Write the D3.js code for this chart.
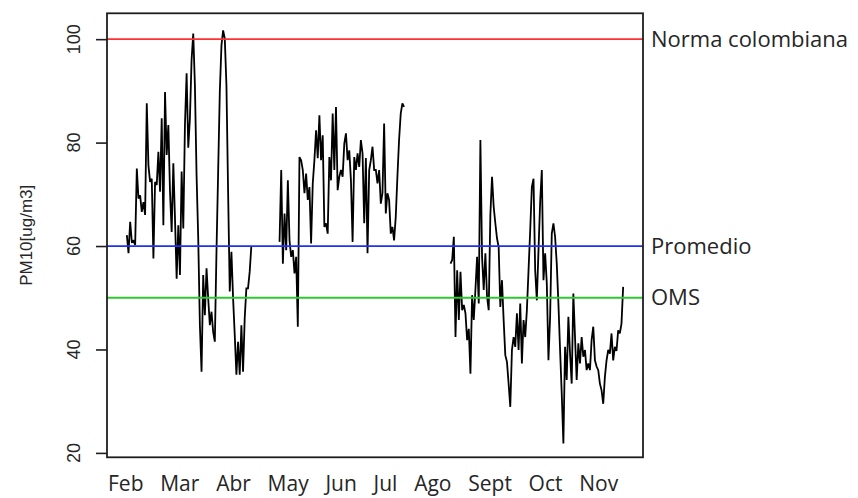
<!DOCTYPE html>
<html>
<head>
<meta charset="utf-8">
<script src="https://cdn.jsdelivr.net/npm/d3@7"></script>
<style>
  html, body { margin: 0; padding: 0; background: #ffffff; }
  svg { display: block; }
</style>
</head>
<body>
<svg id="chart" width="858" height="498"></svg>
<script>
// ---------------- DATA ----------------
const monthLabels = ["Feb", "Mar", "Abr", "May", "Jun", "Jul", "Ago", "Sept", "Oct", "Nov"];
const yTickValues = [20, 40, 60, 80, 100];
const yAxisTitle = "PM10[ug/m3]";

// Daily PM10 readings (ug/m3), three measured periods
const pm10FebApr = [62.1, 58.6, 64.7, 60.8, 61.0, 60.2, 75.0, 69.2, 69.8, 66.6,
  68.5, 66.0, 87.6, 75.6, 72.4, 73.0, 57.6, 72.4, 71.8, 78.2,
  70.5, 84.7, 64.0, 89.8, 77.6, 83.4, 70.5, 62.7, 76.0, 65.3,
  53.7, 64.0, 54.4, 74.4, 63.4, 83.4, 93.4, 79.0, 84.7, 96.0,
  101.1, 91.1, 73.7, 61.5, 44.7, 35.7, 54.4, 46.6, 55.7, 49.9,
  44.7, 47.3, 43.4, 41.5, 58.9, 74.3, 89.8, 98.8, 101.7, 100.1,
  91.1, 70.5, 51.2, 58.9, 49.9, 42.8, 35.1, 41.5, 35.1, 44.7,
  35.7, 46.0, 51.8, 51.8, 55.0, 60.0];
const gapAprMay = 16;   // days without data
const pm10MayJul = [60.8, 74.7, 56.6, 66.3, 59.2, 72.7, 61.1, 57.9, 59.2, 54.7,
  57.9, 44.4, 77.2, 76.6, 74.7, 70.2, 74.0, 68.9, 71.4, 60.5,
  72.1, 76.6, 82.4, 77.0, 85.3, 76.6, 81.4, 63.7, 64.4, 62.4,
  77.2, 72.7, 85.6, 74.7, 86.9, 70.8, 73.4, 74.7, 73.4, 79.8,
  81.8, 76.6, 78.5, 72.7, 60.8, 77.2, 74.7, 77.9, 75.3, 80.5,
  77.9, 64.4, 77.0, 58.6, 74.7, 76.6, 79.2, 74.7, 74.7, 72.1,
  74.7, 68.2, 70.2, 83.7, 66.3, 70.2, 68.9, 62.4, 63.7, 61.1,
  65.6, 73.4, 80.5, 85.6, 87.6, 86.9];
const gapJulSep = 27;   // days without data
const pm10SepNov = [56.6, 57.3, 61.8, 42.4, 55.3, 45.7, 55.0, 47.6, 48.6, 47.0,
  41.8, 44.0, 35.3, 50.5, 45.7, 51.5, 57.9, 48.9, 80.5, 57.9,
  51.5, 58.6, 50.2, 47.6, 66.0, 73.4, 67.6, 64.4, 61.5, 59.8,
  48.2, 53.4, 45.7, 38.9, 37.6, 33.4, 28.9, 39.9, 42.4, 40.5,
  47.0, 39.9, 48.9, 37.3, 45.7, 42.4, 47.6, 55.3, 63.0, 71.4,
  73.0, 55.3, 49.5, 59.2, 68.5, 74.7, 53.4, 58.6, 52.8, 37.9,
  46.3, 62.4, 64.4, 61.8, 56.6, 48.9, 39.9, 31.5, 21.8, 40.5,
  34.1, 46.3, 39.2, 33.4, 50.8, 42.4, 34.1, 41.2, 37.3, 42.4,
  38.6, 39.9, 36.0, 37.3, 36.0, 41.8, 44.4, 37.9, 36.7, 36.0,
  33.4, 32.1, 29.5, 34.7, 37.9, 39.9, 39.2, 43.1, 37.9, 40.5,
  39.7, 43.7, 43.1, 45.0, 52.1];

// Reference levels
const refNames  = ["Norma colombiana", "Promedio", "OMS"];
const refValues = [100, 60, 50];

// ---------------- BUILD ----------------
const series = [].concat(
  pm10FebApr,
  new Array(gapAprMay).fill(null),
  pm10MayJul,
  new Array(gapJulSep).fill(null),
  pm10SepNov
);
const points = series.map((v, i) => ({ i, v }));
const nLast = series.length - 1;

// ---------------- LAYOUT ----------------
const plot = { left: 107, right: 643, top: 13.3, bottom: 457.3 };
const refColors = ["#ff3030", "#1f2fff", "#2ec82e"];
const ink = "#1e1e1e";

const svg = d3.select("#chart");
svg.append("rect").attr("width", 858).attr("height", 498).attr("fill", "#ffffff");

const pad = 0.04 * nLast;
const x = d3.scaleLinear().domain([-pad, nLast + pad]).range([plot.left, plot.right]);
const y = d3.scaleLinear().domain([19.15, 105.0]).range([plot.bottom, plot.top]);

// data line
const line = d3.line()
  .defined(d => d.v !== null)
  .x(d => x(d.i))
  .y(d => y(d.v));

svg.append("path")
  .datum(points)
  .attr("d", line)
  .attr("fill", "none")
  .attr("stroke", "#000000")
  .attr("stroke-width", 1.8)
  .attr("stroke-linejoin", "miter")
  .attr("stroke-miterlimit", 2);

// reference lines
svg.selectAll("line.ref")
  .data(refValues)
  .join("line")
  .attr("class", "ref")
  .attr("x1", plot.left).attr("x2", plot.right)
  .attr("y1", d => y(d)).attr("y2", d => y(d))
  .attr("stroke", (d, i) => refColors[i])
  .attr("stroke-width", 1.8);

// reference labels
svg.selectAll("text.reflab")
  .data(refValues)
  .join("text")
  .attr("class", "reflab")
  .attr("x", plot.right + 8)
  .attr("y", d => y(d) + 7.5)
  .attr("font-family", "'Open Sans', sans-serif")
  .attr("font-size", 22)
  .attr("fill", "#262626")
  .text((d, i) => refNames[i]);

// box
svg.append("rect")
  .attr("x", plot.left).attr("y", plot.top)
  .attr("width", plot.right - plot.left).attr("height", plot.bottom - plot.top)
  .attr("fill", "none").attr("stroke", ink).attr("stroke-width", 1.8);

// y axis ticks
const yAxis = d3.axisLeft(y).tickValues(yTickValues).tickSize(11).tickFormat("");
const gy = svg.append("g").attr("transform", `translate(${plot.left},0)`).call(yAxis);
gy.select(".domain").remove();
gy.selectAll(".tick line").attr("stroke", ink).attr("stroke-width", 1.6);

// y tick labels (rotated, R style)
svg.selectAll("text.ytl")
  .data(yTickValues)
  .join("text")
  .attr("class", "ytl")
  .attr("transform", d => `translate(80,${y(d)}) rotate(-90)`)
  .attr("text-anchor", "middle")
  .attr("font-family", "'Liberation Sans', Arial, sans-serif")
  .attr("font-size", 18)
  .attr("fill", "#262626")
  .text(d => d3.format("d")(d));

// y axis title
svg.append("text")
  .attr("transform", `translate(32,${(plot.top + plot.bottom) / 2}) rotate(-90)`)
  .attr("text-anchor", "middle")
  .attr("font-family", "'Liberation Sans', Arial, sans-serif")
  .attr("font-size", 17)
  .attr("fill", "#262626")
  .text(yAxisTitle);

// month labels (typed under the plot as one line)
svg.append("text")
  .attr("x", 108)
  .attr("y", 491)
  .attr("font-family", "'Open Sans', sans-serif")
  .attr("font-size", 21)
  .attr("fill", "#262626")
  .style("word-spacing", "11.3px")
  .text(monthLabels.join(" "));
</script>
</body>
</html>
